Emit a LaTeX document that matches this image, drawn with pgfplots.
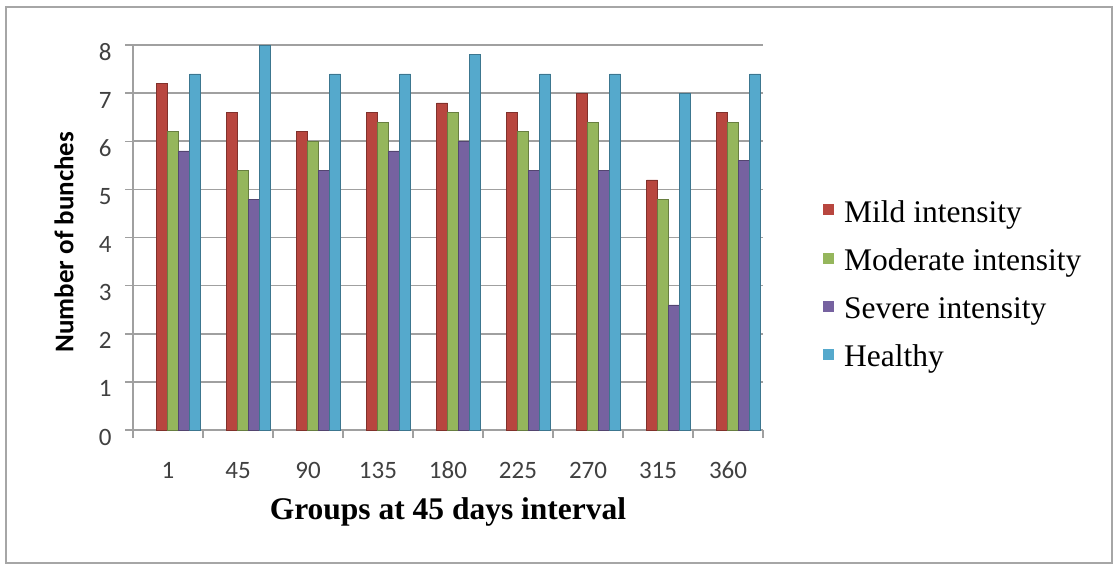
\documentclass[border=0pt]{standalone}
\usepackage{pgfplots}
\pgfplotsset{compat=1.18}
\usepackage{fontspec}
\setmainfont{Liberation Serif}
\newfontfamily\calib{Carlito}
\definecolor{cMild}{HTML}{B8463F}
\definecolor{cMod}{HTML}{95B65C}
\definecolor{cSev}{HTML}{7662A0}
\definecolor{cHea}{HTML}{55A9CC}
\definecolor{gridc}{HTML}{A0A0A0}
\definecolor{tickc}{HTML}{404040}
\begin{document}
\begin{tikzpicture}[x=1pt,y=1pt]
\path[use as bounding box] (0,0) rectangle (1115,566);
\draw[gray!70, line width=1.2pt] (6,3) rectangle (1112,559);
\begin{axis}[
  at={(133pt,136pt)}, anchor=south west,
  scale only axis, width=630pt, height=385pt,
  ybar, bar width=11pt,
  xmin=-0.5, xmax=8.5, ymin=0, ymax=8,
  xtick={0,...,8},
  xticklabels={1,45,90,135,180,225,270,315,360},
  minor xtick={-0.5,0.5,...,8.5},
  ytick={0,...,8},
  /pgf/number format/assume math mode=true,
  typeset ticklabels with strut,
  axis x line*=bottom, axis y line*=left,
  axis line style={gridc, line width=1.5pt, -},
  ymajorgrids, major grid style={gridc, line width=1.6pt},
  tick align=outside,
  x tick style={draw=none},
  minor x tick style={draw=gridc, line width=1.5pt},
  minor tick length=8pt,
  y tick style={draw=gridc, line width=1.5pt},
  major tick length=8pt,
  xticklabel style={font=\fontsize{25}{30}\selectfont\calib, text=tickc, yshift=-16pt},
  yticklabel style={font=\fontsize{25}{30}\selectfont\calib, text=tickc, xshift=-10pt, yshift=-9pt},
  xlabel={\textbf{Groups at 45 days interval}},
  xlabel style={font=\fontsize{31.5}{36}\selectfont, at={(rel axis cs:0.5,0)}, anchor=north, yshift=-64pt},
  ylabel={\calib\bfseries Number of bunches},
  ylabel style={font=\fontsize{27}{32}\selectfont, at={(axis description cs:-0.1095,0.488)}, anchor=center},
  legend style={at={(rel axis cs:1,0.378)}, anchor=west, xshift=57pt, draw=none, fill=none,
    font=\fontsize{31.5}{36}\selectfont, row sep=21pt},
  legend cell align=left,
  legend image code/.code={\fill[#1,draw=none] (0pt,-3pt) rectangle (11pt,8pt); \path[draw=none,fill=none] (0pt,0pt) rectangle (19pt,1pt);},
]
\addplot[fill=cMild, draw=cMild!70!black, bar shift=-6pt] coordinates {(0,7.2) (1,6.6) (2,6.2) (3,6.6) (4,6.8) (5,6.6) (6,7.0) (7,5.2) (8,6.6)};
\addplot[fill=cMod, draw=cMod!70!black, bar shift=5pt] coordinates {(0,6.2) (1,5.4) (2,6.0) (3,6.4) (4,6.6) (5,6.2) (6,6.4) (7,4.8) (8,6.4)};
\addplot[fill=cSev, draw=cSev!70!black, bar shift=16pt] coordinates {(0,5.8) (1,4.8) (2,5.4) (3,5.8) (4,6.0) (5,5.4) (6,5.4) (7,2.6) (8,5.6)};
\addplot[fill=cHea, draw=cHea!70!black, bar shift=27pt] coordinates {(0,7.4) (1,8.0) (2,7.4) (3,7.4) (4,7.8) (5,7.4) (6,7.4) (7,7.0) (8,7.4)};
\legend{Mild intensity, Moderate intensity, Severe intensity, Healthy}
\end{axis}
\end{tikzpicture}
\end{document}
